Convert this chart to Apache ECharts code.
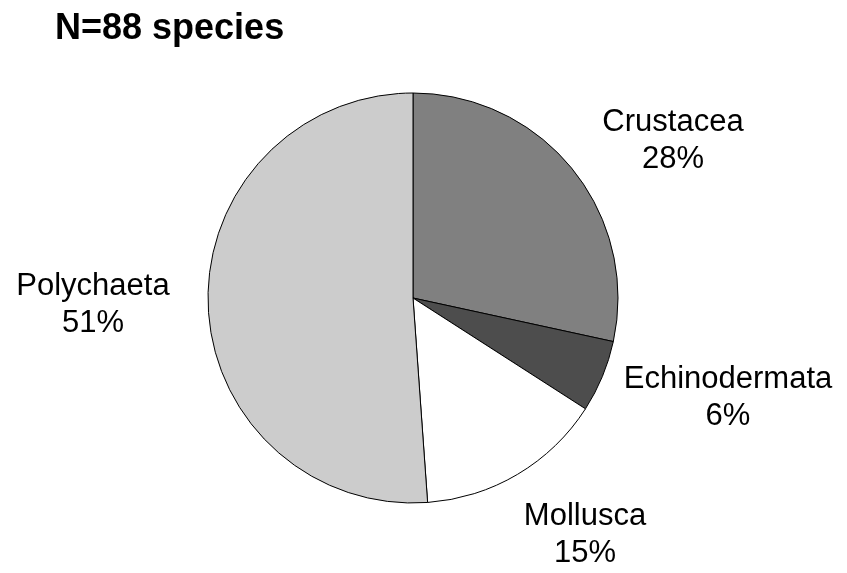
<!DOCTYPE html>
<html>
<head>
<meta charset="utf-8">
<script src="https://cdn.jsdelivr.net/npm/echarts@6/dist/echarts.min.js"></script>
<style>
  html, body { margin: 0; padding: 0; background: #fff; }
  #chart { width: 847px; height: 573px; }
</style>
</head>
<body>
<div id="chart"></div>
<script>
// Species counts per taxonomic group (N = 88)
const groups = ['Crustacea', 'Echinodermata', 'Mollusca', 'Polychaeta'];
const counts = [25, 5, 13, 45];
const fills = ['#808080', '#4d4d4d', '#ffffff', '#cccccc'];

// Where each two-line label block is centred
const labelSpots = [[673, 141], [728, 398], [585, 535], [93, 305]];

const chart = echarts.init(document.getElementById('chart'), null, { renderer: 'canvas' });

chart.setOption({
  animation: false,
  backgroundColor: '#ffffff',
  title: {
    text: 'N=88 species',
    left: 50,
    top: 6,
    textStyle: {
      fontFamily: 'Liberation Sans, Arial, sans-serif',
      fontSize: 36,
      fontWeight: 'bold',
      color: '#000'
    }
  },
  series: [{
    type: 'pie',
    center: [413, 298],
    radius: 205,
    startAngle: 90,
    clockwise: true,
    percentPrecision: 0,
    avoidLabelOverlap: false,
    data: groups.map((g, i) => ({
      name: g,
      value: counts[i],
      itemStyle: { color: fills[i] }
    })),
    itemStyle: { borderColor: '#000', borderWidth: 1 },
    label: {
      show: true,
      position: 'outside',
      formatter: '{b}\n{d}%',
      fontFamily: 'Liberation Sans, Arial, sans-serif',
      fontSize: 31,
      lineHeight: 37,
      color: '#000',
      align: 'center'
    },
    labelLine: { show: false },
    labelLayout: function (p) {
      const s = labelSpots[p.dataIndex];
      return { x: s[0], y: s[1], align: 'center', verticalAlign: 'middle' };
    },
    emphasis: { disabled: true }
  }]
});
</script>
</body>
</html>
